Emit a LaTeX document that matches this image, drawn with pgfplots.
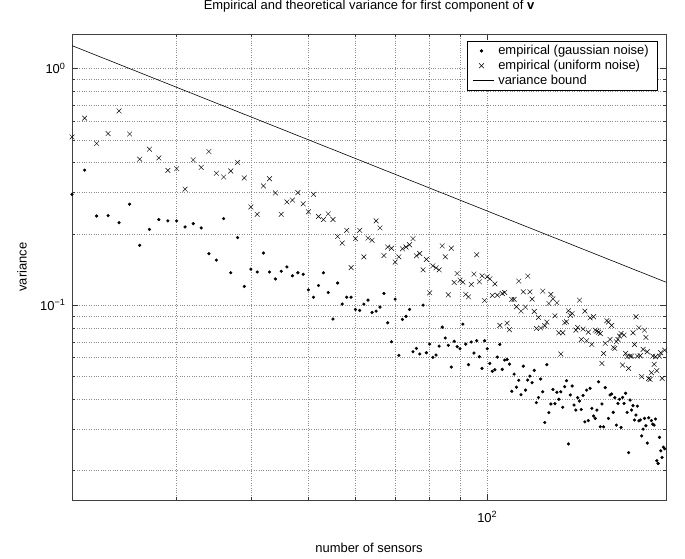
\documentclass[border=0pt]{standalone}
\usepackage{fontspec}
\setmainfont{Liberation Sans}
\usepackage{pgfplots}
\usepackage{pgfplotstable}
\pgfplotsset{compat=1.18}

% empirical variance, gaussian noise
\pgfplotstableread{
n v
20 0.294
21 0.372
22 0.238
23 0.239
24 0.223
25 0.267
26 0.179
27 0.209
28 0.230
29 0.227
30 0.227
31 0.214
32 0.221
33 0.212
34 0.165
35 0.155
36 0.232
37 0.137
38 0.193
39 0.120
40 0.142
41 0.138
42 0.166
43 0.138
44 0.129
45 0.139
46 0.145
47 0.133
48 0.137
49 0.135
50 0.116
51 0.108
52 0.121
53 0.137
54 0.113
55 0.0873
56 0.124
57 0.101
58 0.108
59 0.108
60 0.0959
61 0.0950
62 0.101
63 0.105
64 0.0931
65 0.0943
66 0.0981
67 0.112
68 0.0842
69 0.0700
70 0.106
71 0.0613
72 0.0870
73 0.0896
74 0.0959
75 0.0635
76 0.0656
77 0.0621
78 0.1000
79 0.0629
80 0.0684
81 0.0601
82 0.0615
83 0.0671
84 0.0807
85 0.0726
86 0.0676
87 0.0547
88 0.0703
89 0.0667
90 0.0654
91 0.0831
92 0.0684
93 0.0560
94 0.0698
95 0.0627
96 0.0707
97 0.0605
98 0.0540
99 0.0707
100 0.0654
101 0.0567
102 0.0525
103 0.0533
104 0.0603
105 0.0682
106 0.0535
107 0.0586
108 0.0589
109 0.0563
110 0.0432
111 0.0511
112 0.0450
113 0.0481
114 0.0418
115 0.0552
116 0.0437
117 0.0482
118 0.0501
119 0.0470
120 0.0530
121 0.0387
122 0.0407
123 0.0487
124 0.0430
125 0.0319
126 0.0560
127 0.0351
128 0.0382
129 0.0440
130 0.0383
131 0.0428
132 0.0400
133 0.0430
134 0.0370
135 0.0452
136 0.0479
137 0.0259
138 0.0417
139 0.0455
140 0.0378
141 0.0360
142 0.0406
143 0.0393
144 0.0362
145 0.0415
146 0.0321
147 0.0437
148 0.0325
149 0.0445
150 0.0366
151 0.0340
152 0.0332
153 0.0360
154 0.0474
155 0.0306
156 0.0382
157 0.0306
158 0.0448
160 0.0332
161 0.0417
162 0.0421
163 0.0352
164 0.0406
165 0.0311
166 0.0384
167 0.0400
168 0.0304
169 0.0407
170 0.0384
171 0.0424
172 0.0352
173 0.0238
174 0.0397
175 0.0360
176 0.0376
177 0.0327
178 0.0343
179 0.0374
180 0.0324
181 0.0327
182 0.0280
183 0.0299
184 0.0332
185 0.0309
186 0.0261
187 0.0334
189 0.0325
190 0.0314
191 0.0311
192 0.0330
193 0.0220
194 0.0214
195 0.0276
196 0.0242
197 0.0227
198 0.0251
199 0.0247
}\gaussdata

% empirical variance, uniform noise
\pgfplotstableread{
n v
20 0.514
21 0.617
22 0.482
23 0.531
24 0.662
25 0.529
26 0.414
27 0.456
28 0.419
29 0.371
30 0.377
31 0.309
32 0.411
33 0.382
34 0.446
35 0.361
36 0.348
37 0.369
38 0.401
39 0.345
40 0.260
41 0.242
42 0.319
43 0.342
44 0.298
45 0.242
46 0.273
47 0.278
48 0.299
49 0.268
50 0.248
51 0.294
52 0.237
53 0.230
54 0.243
55 0.230
56 0.195
57 0.183
58 0.207
59 0.144
60 0.191
61 0.207
62 0.160
63 0.192
64 0.188
65 0.227
66 0.212
67 0.162
68 0.176
69 0.174
70 0.152
71 0.160
72 0.173
73 0.176
74 0.180
75 0.191
76 0.1616
77 0.1653
78 0.141
79 0.156
80 0.1127
81 0.1466
82 0.1438
83 0.141
84 0.178
85 0.160
86 0.1106
87 0.174
88 0.1247
89 0.136
90 0.1275
91 0.125
92 0.1110
93 0.1084
94 0.1223
95 0.1352
96 0.1632
97 0.1255
98 0.1330
99 0.1046
100 0.1317
101 0.1292
102 0.1099
103 0.1230
104 0.1102
105 0.0821
106 0.1120
107 0.1131
108 0.0839
109 0.0787
110 0.1057
111 0.1057
112 0.0984
113 0.1263
114 0.0943
115 0.1138
116 0.0981
117 0.1326
118 0.1138
119 0.1060
120 0.0940
121 0.0797
122 0.0887
123 0.0800
124 0.1146
125 0.0818
126 0.0848
127 0.1016
128 0.1110
129 0.1063
130 0.0901
131 0.1023
132 0.0764
133 0.0621
134 0.0764
135 0.0842
136 0.0850
137 0.0946
138 0.0904
139 0.0922
141 0.0784
142 0.0805
143 0.1050
144 0.0716
145 0.0792
146 0.0943
147 0.0707
148 0.0769
149 0.0884
150 0.0682
151 0.0893
152 0.0784
153 0.0777
154 0.0769
155 0.0759
156 0.0567
157 0.0625
158 0.0689
159 0.0859
160 0.0848
161 0.0716
162 0.0821
163 0.0663
164 0.0656
165 0.0700
166 0.0716
167 0.0740
168 0.0759
169 0.0558
170 0.0747
171 0.0625
172 0.0605
173 0.0540
174 0.0609
175 0.0609
176 0.0764
177 0.0682
178 0.0893
179 0.0609
180 0.0802
181 0.0611
182 0.0498
183 0.0650
184 0.0784
185 0.0730
186 0.0635
187 0.0490
188 0.0485
189 0.0518
190 0.0609
191 0.0562
192 0.0605
193 0.0528
195 0.0609
196 0.0629
197 0.0490
199 0.0645
}\unifdata

\begin{document}
\begin{tikzpicture}
\path[use as bounding box] (-72bp,-59bp) rectangle (613bp,500bp);
\begin{axis}[
    at={(0,0)}, anchor=south west,
    scale only axis,
    width=594bp, height=466bp,
    xmode=log, ymode=log,
    xmin=20, xmax=200,
    ymin=0.015, ymax=1.4,
    font=\fontsize{13}{15}\selectfont,
    xtick={100}, xticklabels={10\textsuperscript{2}},
    minor xtick={30,40,50,60,70,80,90},
    ytick={0.1,1}, yticklabels={10\textsuperscript{−1},10\textsuperscript{0}},
    minor ytick={0.02,0.03,0.04,0.05,0.06,0.07,0.08,0.09,0.2,0.3,0.4,0.5,0.6,0.7,0.8,0.9},
    xtick pos=both, ytick pos=both,
    tick align=inside,
    major tick length=6bp, minor tick length=3bp,
    every tick/.style={black!80, line width=0.5bp},
    axis line style={black!75, line width=0.6bp},
    grid=both,
    major grid style={dotted, black!45, line width=0.5bp},
    minor grid style={dotted, black!45, line width=0.5bp},
    yticklabel style={xshift=-3bp},
    xticklabel style={yshift=-8bp},
    title={Empirical and theoretical variance for first component of \textbf{v}},
    title style={at={(axis description cs:0.5,1.047)}, anchor=center},
    xlabel={number of sensors},
    xlabel style={at={(axis description cs:0.5,-0.103)}, anchor=center},
    ylabel={variance},
    ylabel style={at={(axis description cs:-0.084,0.5)}, anchor=center},
    legend style={at={(axis description cs:0.9865,0.9856)}, anchor=north east,
        draw=black, fill=white, line width=0.5bp, font=\fontsize{13}{15}\selectfont,
        inner xsep=5bp, inner ysep=2.5bp, row sep=0bp,
        nodes={inner xsep=4bp}},
    legend cell align=left,
]
\addplot[only marks, mark=*, mark size=1.4bp, black] table[x=n, y=v] {\gaussdata};
\addplot[only marks, mark=x, mark size=3.4bp, black, line width=0.45bp] table[x=n, y=v] {\unifdata};
\addplot[black, line width=0.6bp,
    legend image code/.code={\draw[black, line width=0.6bp] (0bp,0bp) -- (21bp,0bp);}]
    coordinates {(20,1.25) (200,0.125)};
\legend{empirical (gaussian noise), empirical (uniform noise), variance bound}
\end{axis}
\end{tikzpicture}
\end{document}
